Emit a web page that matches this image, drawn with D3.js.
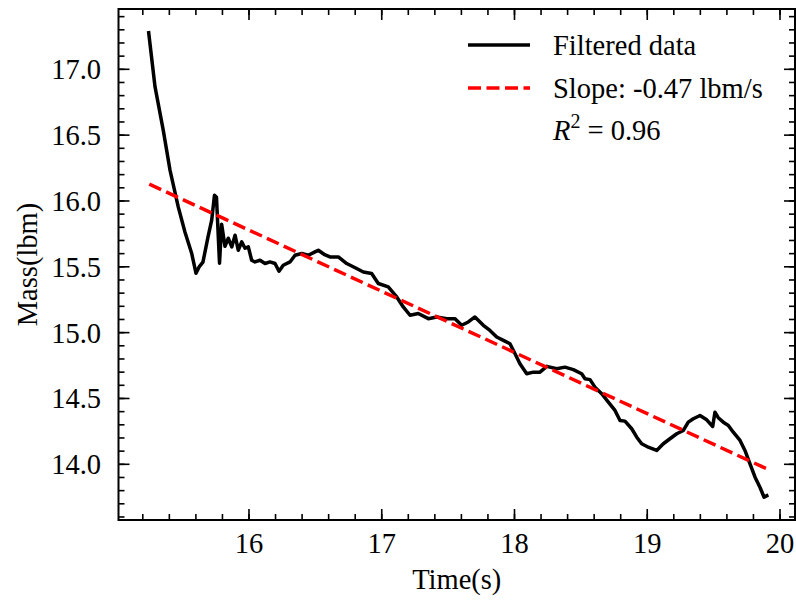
<!DOCTYPE html>
<html>
<head>
<meta charset="utf-8">
<script src="https://cdn.jsdelivr.net/npm/d3@7"></script>
<style>
  body { margin: 0; background: #fff; }
  text { font-family: "Liberation Serif", "Times New Roman", serif; fill: #000; }
</style>
</head>
<body>
<div id="chart"></div>
<script>
// filtered load cell trace
var timeS = [15.243, 15.292, 15.354, 15.405, 15.467, 15.518, 15.568, 15.601, 15.623, 15.653,
  15.691, 15.719, 15.740, 15.755, 15.778, 15.794, 15.819, 15.844, 15.870, 15.895,
  15.919, 15.945, 15.970, 15.995, 16.020, 16.045, 16.083, 16.121, 16.158, 16.196,
  16.226, 16.258, 16.309, 16.347, 16.397, 16.447, 16.497, 16.522, 16.565, 16.610,
  16.673, 16.736, 16.811, 16.861, 16.924, 16.974, 17.049, 17.113, 17.162, 17.213,
  17.275, 17.351, 17.414, 17.489, 17.552, 17.602, 17.652, 17.702, 17.765, 17.815,
  17.866, 17.916, 17.966, 18.004, 18.041, 18.092, 18.142, 18.192, 18.243, 18.318,
  18.380, 18.443, 18.506, 18.531, 18.569, 18.606, 18.657, 18.707, 18.757, 18.795,
  18.832, 18.883, 18.921, 18.958, 19.008, 19.071, 19.121, 19.171, 19.222, 19.272,
  19.309, 19.347, 19.397, 19.448, 19.493, 19.510, 19.535, 19.573, 19.611, 19.648,
  19.699, 19.736, 19.774, 19.812, 19.849, 19.880, 19.912];
var massLbm = [17.291, 16.868, 16.538, 16.234, 15.955, 15.763, 15.603, 15.451, 15.497, 15.535,
  15.725, 15.854, 16.044, 16.029, 15.527, 15.824, 15.656, 15.717, 15.651, 15.740,
  15.626, 15.689, 15.641, 15.651, 15.550, 15.537, 15.550, 15.525, 15.537, 15.525,
  15.466, 15.512, 15.537, 15.588, 15.601, 15.588, 15.613, 15.626, 15.595, 15.575,
  15.575, 15.525, 15.487, 15.461, 15.449, 15.373, 15.347, 15.271, 15.195, 15.132,
  15.145, 15.106, 15.119, 15.106, 15.106, 15.056, 15.081, 15.119, 15.056, 15.017,
  14.967, 14.941, 14.916, 14.840, 14.764, 14.688, 14.700, 14.700, 14.744, 14.726,
  14.738, 14.719, 14.688, 14.650, 14.643, 14.586, 14.536, 14.472, 14.409, 14.333,
  14.328, 14.270, 14.206, 14.156, 14.130, 14.105, 14.156, 14.194, 14.232, 14.257,
  14.320, 14.346, 14.371, 14.338, 14.287, 14.396, 14.354, 14.320, 14.295, 14.244,
  14.181, 14.105, 14.004, 13.902, 13.826, 13.750, 13.768];

// linear fit end points
var fitTime = [15.249, 19.900];
var fitMass = [16.128, 13.966];

var xTicks = [16, 17, 18, 19, 20];
var yTicks = [14.0, 14.5, 15.0, 15.5, 16.0, 16.5, 17.0];
var legendLabels = ['Filtered data', 'Slope: -0.47 lbm/s'];

var W = 796, H = 600;
var pLeft = 118.5, pRight = 795, pTop = 9, pBottom = 520;
var fs = 28.5;
var lw = 3.5;

var svg = d3.select('#chart').append('svg')
  .attr('width', W).attr('height', H)
  .attr('viewBox', '0 0 ' + W + ' ' + H);

var x = d3.scaleLinear().domain([15.017, 20.113]).range([pLeft, pRight]);
var y = d3.scaleLinear().domain([13.577, 17.458]).range([pBottom, pTop]);

var clip = svg.append('defs').append('clipPath').attr('id', 'clip');
clip.append('rect').attr('x', pLeft).attr('y', pTop).attr('width', pRight - pLeft).attr('height', pBottom - pTop);

var plot = svg.append('g').attr('clip-path', 'url(#clip)');

var line = d3.line().x(function (d) { return x(d[0]); }).y(function (d) { return y(d[1]); });

plot.append('path')
  .datum(d3.zip(timeS, massLbm))
  .attr('d', line)
  .attr('fill', 'none')
  .attr('stroke', '#000')
  .attr('stroke-width', lw)
  .attr('stroke-linejoin', 'round');

plot.append('path')
  .datum(d3.zip(fitTime, fitMass))
  .attr('d', line)
  .attr('fill', 'none')
  .attr('stroke', '#ff0000')
  .attr('stroke-width', lw)
  .attr('stroke-dasharray', '13,5.5');

// ticks on all four sides, pointing in
var minorX = d3.range(15.2, 20.11, 0.2);
var minorY = d3.range(13.6, 17.45, 0.1);
var ticks = svg.append('g').attr('stroke', '#000').attr('stroke-width', 1.6);

minorX.forEach(function (v) {
  ticks.append('line').attr('x1', x(v)).attr('x2', x(v)).attr('y1', pBottom).attr('y2', pBottom - 6);
  ticks.append('line').attr('x1', x(v)).attr('x2', x(v)).attr('y1', pTop).attr('y2', pTop + 6);
});
xTicks.forEach(function (v) {
  ticks.append('line').attr('x1', x(v)).attr('x2', x(v)).attr('y1', pBottom).attr('y2', pBottom - 11);
  ticks.append('line').attr('x1', x(v)).attr('x2', x(v)).attr('y1', pTop).attr('y2', pTop + 11);
});
minorY.forEach(function (v) {
  ticks.append('line').attr('y1', y(v)).attr('y2', y(v)).attr('x1', pLeft).attr('x2', pLeft + 6);
  ticks.append('line').attr('y1', y(v)).attr('y2', y(v)).attr('x1', pRight).attr('x2', pRight - 6);
});
yTicks.forEach(function (v) {
  ticks.append('line').attr('y1', y(v)).attr('y2', y(v)).attr('x1', pLeft).attr('x2', pLeft + 11);
  ticks.append('line').attr('y1', y(v)).attr('y2', y(v)).attr('x1', pRight).attr('x2', pRight - 11);
});

svg.append('rect')
  .attr('x', pLeft).attr('y', pTop)
  .attr('width', pRight - pLeft).attr('height', pBottom - pTop)
  .attr('fill', 'none').attr('stroke', '#000').attr('stroke-width', 2);

svg.append('g').selectAll('text').data(xTicks).enter().append('text')
  .attr('x', function (d) { return x(d); })
  .attr('y', 553)
  .attr('text-anchor', 'middle')
  .attr('font-size', fs)
  .text(function (d) { return d; });

svg.append('g').selectAll('text').data(yTicks).enter().append('text')
  .attr('x', 101)
  .attr('y', function (d) { return y(d); })
  .attr('dy', '0.35em')
  .attr('text-anchor', 'end')
  .attr('font-size', fs)
  .text(function (d) { return d.toFixed(1); });

svg.append('text')
  .attr('x', (pLeft + pRight) / 2).attr('y', 589)
  .attr('text-anchor', 'middle').attr('font-size', fs)
  .text('Time(s)');

svg.append('text')
  .attr('transform', 'translate(37,' + (pTop + pBottom) / 2 + ') rotate(-90)')
  .attr('text-anchor', 'middle').attr('font-size', fs)
  .text('Mass(lbm)');

// legend
var legend = svg.append('g');
legend.append('line').attr('x1', 468).attr('x2', 530).attr('y1', 45).attr('y2', 45)
  .attr('stroke', '#000').attr('stroke-width', lw);
legend.append('line').attr('x1', 468).attr('x2', 530).attr('y1', 88).attr('y2', 88)
  .attr('stroke', '#ff0000').attr('stroke-width', lw).attr('stroke-dasharray', '13,5.5');
legend.append('text').attr('x', 553).attr('y', 55).attr('font-size', fs).text(legendLabels[0]);
legend.append('text').attr('x', 553).attr('y', 98).attr('font-size', fs).text(legendLabels[1]);
var r2 = legend.append('text').attr('x', 553).attr('y', 140).attr('font-size', fs);
r2.append('tspan').attr('font-style', 'italic').text('R');
r2.append('tspan').attr('font-size', 20).attr('dy', -12).text('2');
r2.append('tspan').attr('dy', 12).text(' = 0.96');
</script>
</body>
</html>
